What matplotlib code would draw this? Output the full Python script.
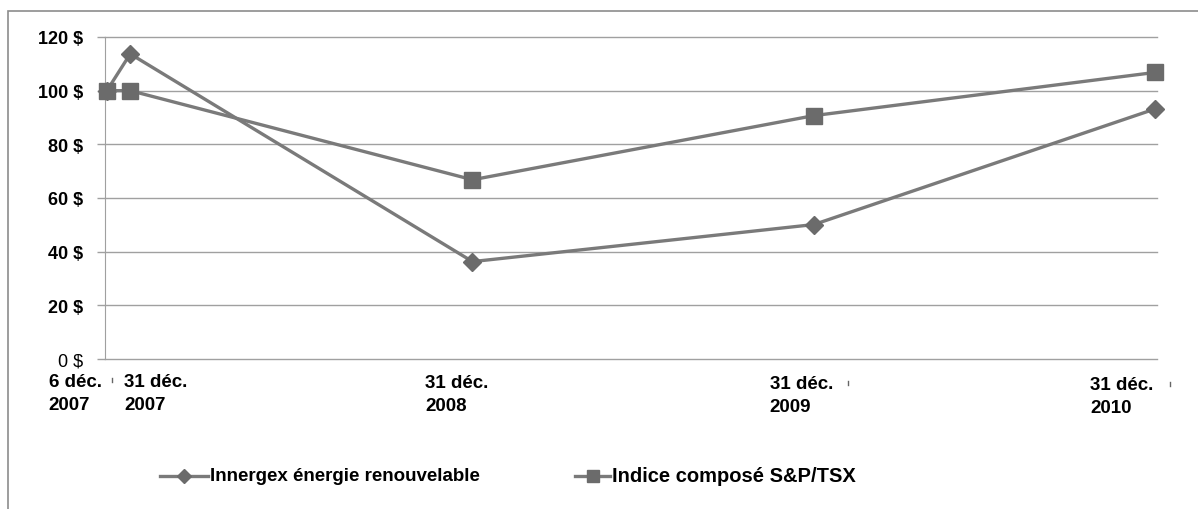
import matplotlib
matplotlib.use("Agg")
import matplotlib.pyplot as plt
import matplotlib.transforms as mtransforms
from matplotlib.patches import Rectangle
from matplotlib.lines import Line2D
import datetime as dt
from matplotlib import font_manager

dates = ["2007-12-06", "2007-12-31", "2008-12-31", "2009-12-31", "2010-12-31"]
date_labels = ["6 déc.\n2007", "31 déc.\n2007", "31 déc.\n2008", "31 déc.\n2009", "31 déc.\n2010"]
innergex = [100, 113.7, 36.3, 50.1, 93.2]
tsx = [100, 100, 66.8, 90.7, 106.8]
series_names = ["Innergex énergie renouvelable", "Indice composé S&P/TSX"]
y_ticks = [0, 20, 40, 60, 80, 100, 120]
y_labels = ["0 $", "20 $", "40 $", "60 $", "80 $", "100 $", "120 $"]

names = {f.name for f in font_manager.fontManager.ttflist}
base = "Liberation Sans" if "Liberation Sans" in names else "DejaVu Sans"
plt.rcParams["font.family"] = [base, "DejaVu Sans"]

x = [dt.datetime.strptime(d, "%Y-%m-%d") for d in dates]

W, H = 1198, 510
fig = plt.figure(figsize=(W/100, H/100), dpi=100)
ax = fig.add_axes([105/W, (H-360)/H, (1157-105)/W, (360-38)/H])

line_col = "#7a7a7a"
mark_col = "#6b6b6b"
ax.plot(x, innergex, color=line_col, lw=2.4, marker="D", ms=9, mfc=mark_col, mec=mark_col,
        clip_on=False, zorder=3)
ax.plot(x, tsx, color=line_col, lw=2.4, marker="s", ms=11, mfc=mark_col, mec=mark_col,
        clip_on=False, zorder=3)

ax.set_ylim(0, 120)
ax.set_xlim(dt.datetime(2007, 12, 4), dt.datetime(2011, 1, 2))
ax.set_yticks(y_ticks)
ax.set_yticklabels(y_labels)
for i, t in enumerate(ax.get_yticklabels()):
    t.set_fontsize(13)
    t.set_fontweight("normal" if i == 0 else "bold")
ax.yaxis.grid(True, color="#a0a0a0", lw=1)
for gl in ax.get_ygridlines():
    gl.set_clip_on(False)
ax.set_axisbelow(True)
ax.tick_params(axis="y", length=6, color="#a0a0a0", width=1, pad=10)
for s in ["top", "right", "bottom"]:
    ax.spines[s].set_visible(False)
ax.spines["left"].set_color("#a0a0a0")
ax.set_xticks([])

# x labels with individual offsets (pixels: left edge relative to date, top below axis)
offsets = [(-58, 14), (-6, 14), (-47, 15), (-44, 16), (-65, 17)]
for xi, lab, (dx, dy) in zip(x, date_labels, offsets):
    tr = ax.get_xaxis_transform() + mtransforms.ScaledTranslation(dx/100, -dy/100, fig.dpi_scale_trans)
    ax.text(xi, 0, lab, transform=tr, ha="left", va="top", fontsize=13.5,
            fontweight="bold", linespacing=1.45)

# tiny stray tick marks
for px, py in [(112, 381), (848, 384), (1170, 385)]:
    fig.lines.append(Line2D([px/W, px/W], [1-(py-2)/H, 1-(py+2)/H], transform=fig.transFigure,
                            color="#666666", lw=1))

# outer frame
fig.patches.append(Rectangle((8/W, -0.1), 1.2, (H-12)/H + 0.1, transform=fig.transFigure,
                             fill=False, ec="#8c8c8c", lw=1.2))

# legend
def leg(x0, x1, marker, ms, label, fs):
    yy = 1 - 477/H
    fig.lines.append(Line2D([x0/W, x1/W], [yy, yy], transform=fig.transFigure,
                            color=line_col, lw=2.4))
    fig.lines.append(Line2D([(x0+x1)/2/W], [yy], transform=fig.transFigure,
                            marker=marker, ms=ms, color=mark_col, lw=0))
    fig.text((x1+2)/W, yy, label, ha="left", va="center", fontsize=fs,
             fontweight="bold")

leg(160, 208, "D", 7, series_names[0], 13.5)
leg(575, 610, "s", 9, series_names[1], 14.5)

fig.savefig("out.png", dpi=100)
